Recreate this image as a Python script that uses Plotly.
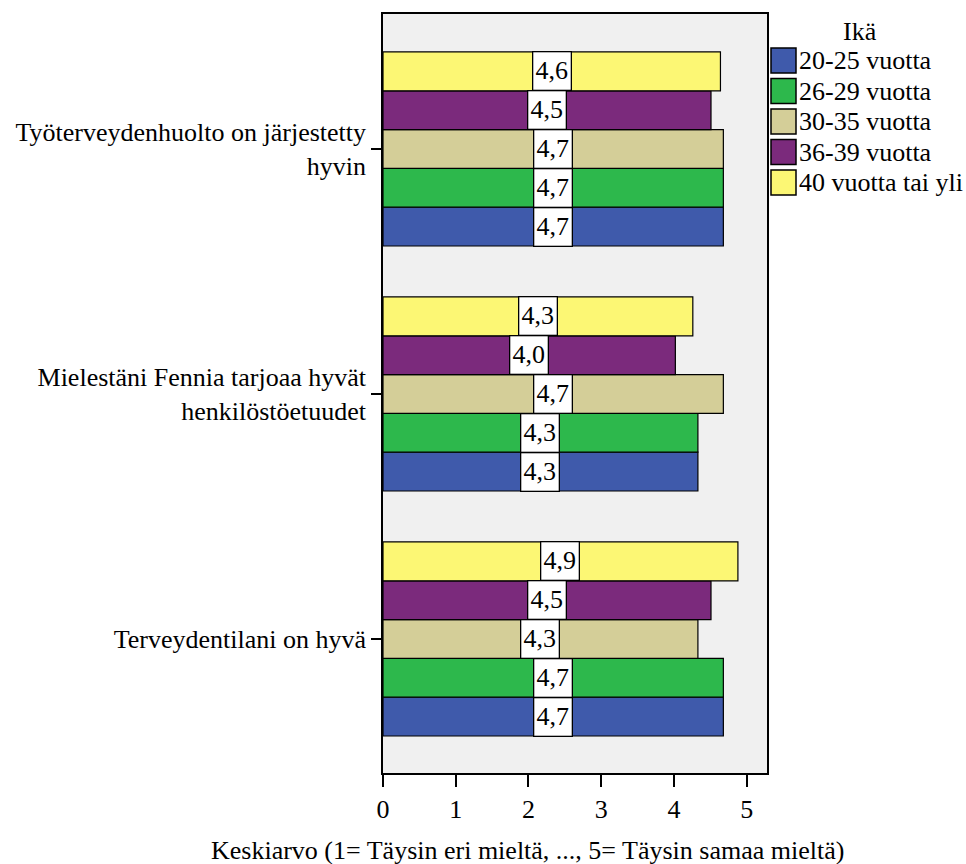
import plotly.graph_objects as go

# Survey statements (bottom to top on the chart)
statements = [
    "Terveydentilani on hyvä",
    "Mielestäni Fennia tarjoaa hyvät<br>henkilöstöetuudet",
    "Työterveydenhuolto on järjestetty<br>hyvin",
]

# Age groups and their colours
age_groups = ["20-25 vuotta", "26-29 vuotta", "30-35 vuotta", "36-39 vuotta", "40 vuotta tai yli"]
colors = ["#3f5aab", "#2db84c", "#d4ce98", "#7b2a7c", "#fcf774"]

# Mean scores per age group, in the order of `statements`
mean_20_25 = [4.68, 4.33, 4.68]
mean_26_29 = [4.68, 4.33, 4.68]
mean_30_35 = [4.33, 4.68, 4.68]
mean_36_39 = [4.51, 4.02, 4.51]
mean_40_up = [4.88, 4.26, 4.64]
series = [mean_20_25, mean_26_29, mean_30_35, mean_36_39, mean_40_up]

x_ticks = [0, 1, 2, 3, 4, 5]

FONT = "Liberation Serif"
FS = 26
group_width = 0.792
n = len(age_groups)

W, H = 966, 864
L, R, T, B = 383, 199, 14, 91
pw, ph = W - L - R, H - T - B


def px_x(px):
    return (px - L) / pw


def px_y(py):
    return 1 - (py - T) / ph


fig = go.Figure()
annotations = []
for i, (name, col, vals) in enumerate(zip(age_groups, colors, series)):
    fig.add_trace(go.Bar(
        y=statements, x=vals, orientation="h", name=name,
        marker=dict(color=col, line=dict(color="black", width=1.2)),
        showlegend=False,
    ))
    offset = -group_width / 2 + (i + 0.5) * group_width / n
    for k, v in enumerate(vals):
        annotations.append(dict(
            x=v / 2, y=k + offset, xref="x", yref="y",
            text=f"{v:.1f}".replace(".", ","), showarrow=False,
            font=dict(family=FONT, size=FS, color="black"),
            bgcolor="white", bordercolor="black", borderwidth=1.3,
            width=35, height=35, borderpad=1,
        ))

# Legend drawn as swatches + labels to the right of the plot
annotations.append(dict(
    x=px_x(860), y=px_y(31), xref="paper", yref="paper", text="Ikä",
    showarrow=False, xanchor="center", yanchor="middle",
    font=dict(family=FONT, size=FS, color="black"),
))
shapes = []
for i, (name, col) in enumerate(zip(age_groups, colors)):
    top = 48 + i * 30.5
    shapes.append(dict(
        type="rect", xref="paper", yref="paper",
        x0=px_x(771), x1=px_x(796), y0=px_y(top), y1=px_y(top + 25),
        fillcolor=col, line=dict(color="black", width=1.5),
    ))
    annotations.append(dict(
        x=px_x(797), y=px_y(top + 12.5), xref="paper", yref="paper",
        xanchor="left", yanchor="middle", text=name, showarrow=False,
        font=dict(family=FONT, size=FS, color="black"),
    ))

# X axis title
annotations.append(dict(
    x=px_x(527), y=px_y(850), xref="paper", yref="paper",
    text="Keskiarvo (1= Täysin eri mieltä, ..., 5= Täysin samaa mieltä)",
    showarrow=False, xanchor="center", yanchor="middle",
    font=dict(family=FONT, size=FS, color="black"),
))

fig.update_layout(
    width=W, height=H,
    margin=dict(l=L, r=R, t=T, b=B),
    paper_bgcolor="white", plot_bgcolor="#f0f0f0",
    barmode="group", bargap=1 - group_width, bargroupgap=0,
    font=dict(family=FONT, size=FS, color="black"),
    annotations=annotations, shapes=shapes,
    xaxis=dict(
        range=[0, 5.28], tickvals=x_ticks, ticktext=[str(t) for t in x_ticks],
        showgrid=False, zeroline=False, showline=True, linecolor="black", linewidth=1.5,
        mirror=True, ticks="outside", ticklen=12, tickwidth=1.5, tickcolor="black",
        tickfont=dict(family=FONT, size=FS),
    ),
    yaxis=dict(
        type="category", categoryorder="array", categoryarray=statements,
        range=[-0.547, 2.551],
        showgrid=False, zeroline=False, showline=True, linecolor="black", linewidth=1.5,
        mirror=True, ticks="outside", ticklen=10, tickwidth=1.5, tickcolor="black",
        tickfont=dict(family=FONT, size=FS), ticklabelstandoff=0,
    ),
)

fig.write_html("out.html")
